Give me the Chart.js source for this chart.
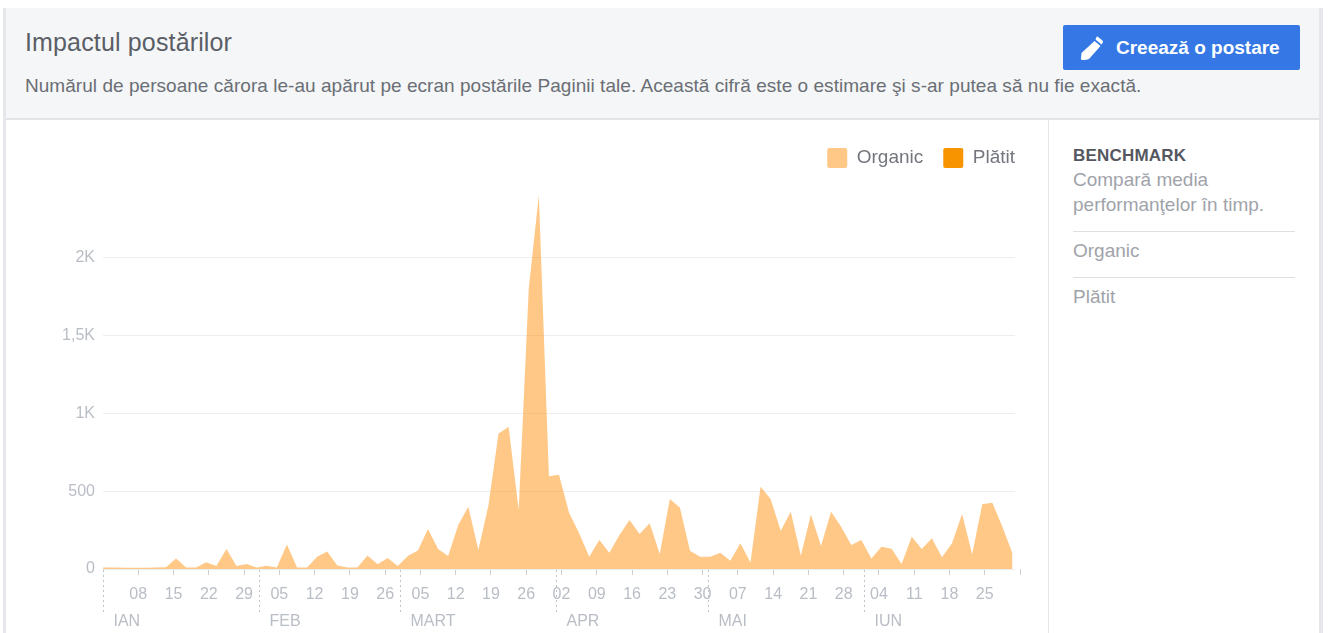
<!DOCTYPE html>
<html>
<head>
<meta charset="utf-8">
<script src="https://cdn.jsdelivr.net/npm/chart.js@4"></script>
<style>
  html, body { margin: 0; padding: 0; background: #fff; overflow: hidden; }
  body { width: 1328px; height: 633px; position: relative; font-family: "Liberation Sans", Arial, sans-serif; }
  .abs { position: absolute; white-space: nowrap; }
  #myChart { position: absolute; left: 5px; top: 128px; }
</style>
</head>
<body>
<div class="abs" style="left:3px;top:8px;width:3px;height:625px;background:#e6e7ea"></div>
<div class="abs" style="left:1319px;top:8px;width:4px;height:625px;background:#e6e7ea"></div>
<div class="abs" style="left:6px;top:8px;width:1313px;height:110px;background:#f5f6f7"></div>
<div class="abs" style="left:6px;top:118px;width:1313px;height:2px;background:#e3e4e7"></div>
<div class="abs" style="left:1048px;top:120px;width:1px;height:513px;background:#e6e7ea"></div>

<div class="abs" style="left:25px;top:27px;font-size:25px;line-height:30px;color:#5a5e66;letter-spacing:.15px">Impactul postărilor</div>
<div class="abs" style="left:25px;top:75px;font-size:19px;line-height:22px;color:#6a6e75;letter-spacing:.04px">Numărul de persoane cărora le-au apărut pe ecran postările Paginii tale. Această cifră este o estimare şi s-ar putea să nu fie exactă.</div>

<div class="abs" style="left:1063px;top:25px;width:237px;height:45px;background:#3578e5;border-radius:2px"></div>
<svg class="abs" style="left:1080px;top:36px" width="24" height="24" viewBox="0 0 24 24"><path fill="#fff" d="M17.5 0.5 L22.5 4.5 Q23.5 5.5 22.5 7 L21.5 8.5 L15.5 3.5 L16.5 1 Q17 0.3 17.5 0.5 Z M14.5 5 L20.5 10 L9 23 Q7 24 3 24 Q0.5 24 1 22 L1.5 17 Z"/></svg>
<div class="abs" style="left:1116px;top:37px;font-size:19px;line-height:22px;font-weight:bold;color:#fff">Creează o postare</div>

<div class="abs" style="left:1073px;top:146px;font-size:17px;line-height:20px;font-weight:bold;color:#55585f;letter-spacing:.2px">BENCHMARK</div>
<div class="abs" style="left:1073px;top:169px;font-size:19px;line-height:22px;color:#a0a3aa">Compară media</div>
<div class="abs" style="left:1073px;top:194px;font-size:19px;line-height:22px;color:#a0a3aa">performanţelor în timp.</div>
<div class="abs" style="left:1073px;top:231px;width:222px;height:1px;background:#dddfe2"></div>
<div class="abs" style="left:1073px;top:240px;font-size:19px;line-height:22px;color:#a0a3aa">Organic</div>
<div class="abs" style="left:1073px;top:277px;width:222px;height:1px;background:#dddfe2"></div>
<div class="abs" style="left:1073px;top:286px;font-size:19px;line-height:22px;color:#a0a3aa">Plătit</div>

<canvas id="myChart" width="1042" height="505"></canvas>
<script>
  // zile de la 1 ian.
  var days = [0,2.5,4.5,6.5,8.5,10.5,12.5,14.5,16.5,18.5,20.5,22.5,24.5,26.5,28.5,30.5,32.5,34.5,36.5,38.5,
    40.5,42.5,44.5,46.5,48.5,50.5,52.5,54.5,56.5,58.5,60.5,62.5,64.5,66.5,68.5,70.5,72.5,74.5,76.5,78.5,
    80.5,82.5,84.5,86.5,88.5,90.5,92.5,94.5,96.5,98.5,100.5,102.5,104.5,106.5,108.5,110.5,112.5,114.5,116.5,118.5,
    120.5,122.5,124.5,126.5,128.5,130.5,132.5,134.5,136.5,138.5,140.5,142.5,144.5,146.5,148.5,150.5,152.5,154.5,156.5,158.5,
    160.5,162.5,164.5,166.5,168.5,170.5,172.5,174.5,176.5,178.5,180.5];
  var organic = [10,10,8,8,8,10,12,68,10,10,43,20,128,20,32,10,21,10,158,10,
    10,79,113,23,10,10,87,30,70,19,83,118,256,128,83,282,400,122,410,870,
    912,378,1800,2400,595,605,361,229,79,186,105,218,314,224,293,96,449,393,117,79,
    79,105,53,165,41,528,449,246,368,85,350,147,368,271,154,186,68,143,130,32,
    207,128,197,75,165,353,94,415,425,271,100];
  var platit = [0,0,0,0,0,0,0,0,0,0,0,0,0,0,0,0,0,0,0,0,0,0,0,0,0,0,0,0,0,0,0,0,0,0,0,0,0,0,0,0,0,0,0,0,0,0,
    0,0,0,0,0,0,0,0,0,0,0,0,0,0,0,0,0,0,0,0,0,0,0,0,0,0,0,0,0,0,0,0,0,0,0,0,0,0,0,0,0,0,0,0,0];
  var tickDays = [7,14,21,28,35,42,49,56,63,70,77,84,91,98,105,112,119,126,133,140,147,154,161,168,175,182];
  var tickLabels = ['08','15','22','29','05','12','19','26','05','12','19','26','02','09','16','23','30','07','14','21','28','04','11','18','25',''];
  var yTicks = [0,500,1000,1500,2000];
  var yLabels = ['0','500','1K','1,5K','2K'];
  var monthDays = [0,31,59,90,120,151];
  var monthLabels = ['IAN','FEB','MART','APR','MAI','IUN'];

  var textFont = '"Liberation Sans", Arial, sans-serif';
  var greyText = '#b9bdc5';

  // liniile punctate si numele lunilor
  var monthsPlugin = {
    id: 'months',
    afterLayout: function(chart) {
      // legenda trebuie sa ajunga pana la marginea graficului
      chart.legend.right += 20;
    },
    afterDraw: function(chart) {
      var c = chart.ctx, x = chart.scales.x, base = chart.chartArea.bottom;
      c.save();
      monthDays.forEach(function(d, i) {
        var px = Math.round(x.getPixelForValue(d)) + 0.5;
        c.strokeStyle = '#bec2c9';
        c.lineWidth = 1;
        c.setLineDash([2, 3]);
        c.beginPath();
        c.moveTo(px, base + 1);
        c.lineTo(px, base + 44);
        c.stroke();
        c.fillStyle = greyText;
        c.font = '16px ' + textFont;
        c.textBaseline = 'middle';
        c.fillText(monthLabels[i], px + 10, base + 53);
      });
      c.restore();
    }
  };

  var ctx = document.getElementById('myChart').getContext('2d');
  var myChart = new Chart(ctx, {
    type: 'line',
    plugins: [monthsPlugin],
    data: {
      datasets: [{
        label: 'Organic',
        data: days.map(function(d, i) { return {x: d, y: organic[i]}; }),
        backgroundColor: 'rgba(255,145,15,0.5)',
        borderWidth: 0,
        pointRadius: 0,
        fill: 'origin'
      }, {
        label: 'Plătit',
        data: days.map(function(d, i) { return {x: d, y: platit[i]}; }),
        backgroundColor: '#f79400',
        borderWidth: 0,
        pointRadius: 0,
        fill: 'origin'
      }]
    },
    options: {
      responsive: false,
      animation: false,
      layout: { padding: { right: 32 } },
      plugins: {
        tooltip: { enabled: false },
        legend: {
          align: 'end',
          onClick: null,
          labels: {
            boxWidth: 20,
            boxHeight: 20,
            padding: 20,
            useBorderRadius: true,
            borderRadius: 2,
            color: '#73767d',
            font: { family: textFont, size: 19 }
          }
        }
      },
      scales: {
        x: {
          type: 'linear',
          min: 0,
          max: 181,
          afterFit: function(s) { s.height = 64; },
          afterBuildTicks: function(s) { s.ticks = tickDays.map(function(v) { return {value: v}; }); },
          border: { display: false },
          grid: { drawOnChartArea: false, tickLength: 6, tickColor: '#ccd0d5' },
          ticks: {
            color: greyText,
            padding: 10,
            maxRotation: 0,
            autoSkip: false,
            font: { family: textFont, size: 16 },
            callback: function(v, i) { return tickLabels[i]; }
          }
        },
        y: {
          min: 0,
          max: 2510,
          afterFit: function(s) { s.width = 98; },
          afterBuildTicks: function(s) { s.ticks = yTicks.map(function(v) { return {value: v}; }); },
          border: { display: false },
          grid: { color: '#edeef0', drawTicks: false },
          ticks: {
            color: greyText,
            padding: 8,
            font: { family: textFont, size: 16 },
            callback: function(v, i) { return yLabels[i]; }
          }
        }
      }
    }
  });
</script>
</body>
</html>
